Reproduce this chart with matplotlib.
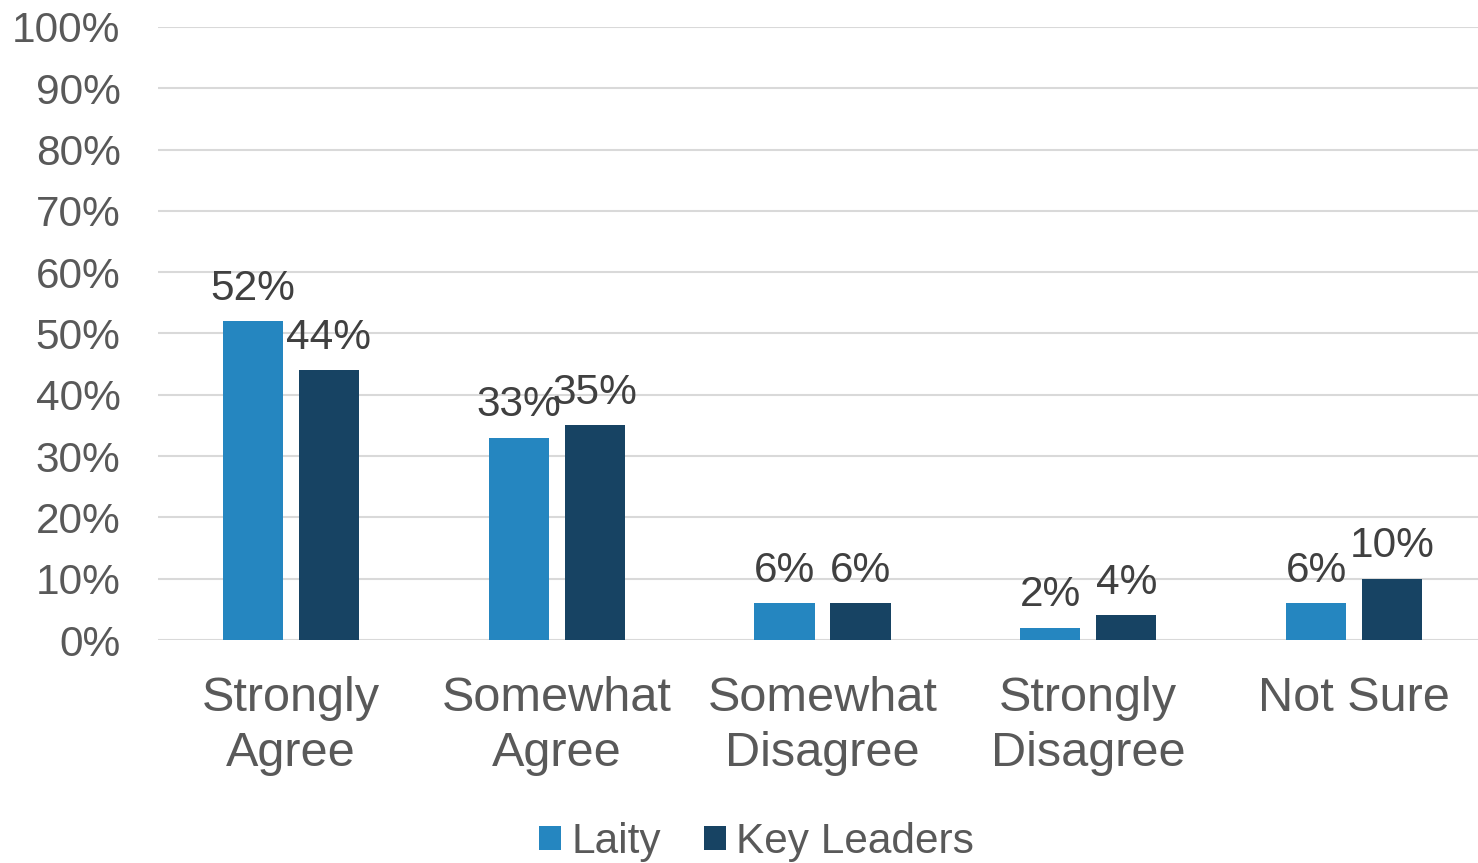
import matplotlib
matplotlib.use("Agg")
import matplotlib.pyplot as plt
import numpy as np
from matplotlib.ticker import PercentFormatter

categories = ["Strongly\nAgree", "Somewhat\nAgree", "Somewhat\nDisagree", "Strongly\nDisagree", "Not Sure"]
series_names = ["Laity", "Key Leaders"]
laity = [52, 33, 6, 2, 6]
key_leaders = [44, 35, 6, 4, 10]
colors = ["#2586C0", "#174363"]

plt.rcParams['font.family'] = ['Liberation Sans', 'DejaVu Sans']

fig = plt.figure(figsize=(14.78, 8.63), dpi=100)
ax = fig.add_axes([158/1478, (863-640)/863, 1329/1478, (640-27)/863])

x = np.arange(len(categories))
w = 0.226
off = 0.143
for vals, name, col, o in [(laity, series_names[0], colors[0], -off), (key_leaders, series_names[1], colors[1], off)]:
    bars = ax.bar(x + o, vals, width=w, color=col, label=name, zorder=3)
    for b, v in zip(bars, vals):
        ax.annotate(f"{v}%", (b.get_x() + b.get_width()/2, v), xytext=(0, 9),
                    textcoords="offset points", ha="center", va="bottom",
                    fontsize=30.5, color="#404040")

ax.set_xlim(-0.5, len(categories) - 0.5)
ax.set_ylim(0, 100)
ax.set_yticks(range(0, 101, 10))
ax.yaxis.set_major_formatter(PercentFormatter(decimals=0))
ax.set_xticks(x)
ax.set_xticklabels(categories, linespacing=1.27)
ax.tick_params(axis='x', length=0, pad=26, labelsize=35, labelcolor="#595959")
ax.tick_params(axis='y', length=0, pad=27, labelsize=30.5, labelcolor="#595959")
ax.grid(axis='y', color="#D9D9D9", linewidth=1.5, zorder=0)
for s in ax.spines.values():
    s.set_visible(False)

fig.legend(loc="lower center", bbox_to_anchor=(0.512, -0.043), ncol=2, frameon=False,
           fontsize=30.5, handlelength=0.52, handleheight=0.52, handletextpad=0.25,
           columnspacing=1.0, labelcolor="#595959")

fig.savefig("out.png", dpi=100)
